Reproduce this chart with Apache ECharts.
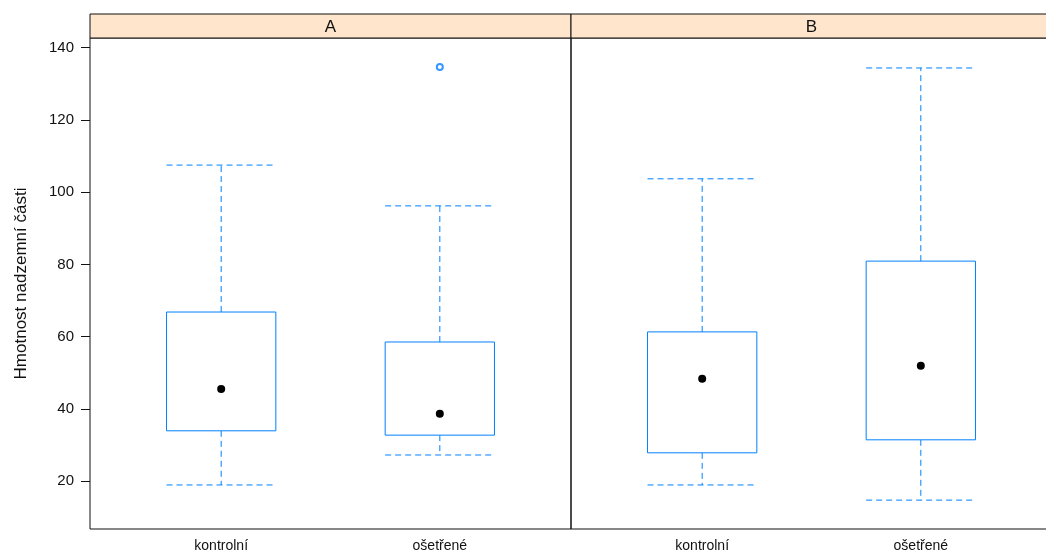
<!DOCTYPE html>
<html>
<head>
<meta charset="utf-8">
<script src="https://cdn.jsdelivr.net/npm/echarts@6/dist/echarts.min.js"></script>
<style>html,body{margin:0;padding:0;background:#fff}#c{width:1046px;height:560px}</style>
</head>
<body>
<div id="c"></div>
<script>
// ---- data ----
const panels = ['A', 'B'];
const categories = ['kontrolní', 'ošetřené'];
// [low whisker, Q1, median, Q3, high whisker]
const statsA = [
  [18.9, 33.9, 45.5, 66.8, 107.5],
  [27.2, 32.7, 38.6, 58.5, 96.2]
];
const statsB = [
  [18.9, 27.8, 48.3, 61.3, 103.7],
  [14.7, 31.4, 51.9, 80.9, 134.4]
];
const outliersA = [[2, 134.7]];
const outliersB = [];
const yTicks = [20, 40, 60, 80, 100, 120, 140];
const yName = 'Hmotnost nadzemní části';

// ---- chart ----
const BLUE = '#0080ff';
const YMIN = 6.7, YMAX = 142.7;
const chart = echarts.init(document.getElementById('c'));

function boxData(stats) {
  return stats.map((s, i) => [i + 1].concat(s));
}
function renderBox(params, api) {
  const x = api.value(0);
  const lo = api.value(1), q1 = api.value(2), med = api.value(3), q3 = api.value(4), hi = api.value(5);
  const w = api.size([0.5, 0])[0];
  const pLo = api.coord([x, lo]), pQ1 = api.coord([x, q1]), pMed = api.coord([x, med]);
  const pQ3 = api.coord([x, q3]), pHi = api.coord([x, hi]);
  const cx = pLo[0];
  const dash = { stroke: BLUE, lineWidth: 1, lineDash: [6, 4], fill: null };
  return {
    type: 'group',
    children: [
      { type: 'line', shape: { x1: cx, y1: pQ3[1], x2: cx, y2: pHi[1] }, style: dash },
      { type: 'line', shape: { x1: cx, y1: pQ1[1], x2: cx, y2: pLo[1] }, style: dash },
      { type: 'line', shape: { x1: cx - w / 2, y1: pHi[1], x2: cx + w / 2, y2: pHi[1] }, style: dash },
      { type: 'line', shape: { x1: cx - w / 2, y1: pLo[1], x2: cx + w / 2, y2: pLo[1] }, style: dash },
      { type: 'rect', shape: { x: cx - w / 2, y: pQ3[1], width: w, height: pQ1[1] - pQ3[1] },
        style: { stroke: BLUE, lineWidth: 1, fill: '#fff' } },
      { type: 'circle', shape: { cx: cx, cy: pMed[1], r: 4 }, style: { fill: '#000' } }
    ]
  };
}

const font = 'Liberation Sans, Arial, sans-serif';

function xAxis(gi) {
  return {
    gridIndex: gi, type: 'value', min: 0.4, max: 2.6,
    axisLine: { show: false }, splitLine: { show: false },
    axisTick: { show: false },
    axisLabel: {
      customValues: [1, 2], formatter: v => categories[Math.round(v) - 1] || '',
      color: '#111', fontSize: 14, fontFamily: font, margin: 10
    }
  };
}
function yAxis(gi, showLabels) {
  return {
    gridIndex: gi, type: 'value', min: YMIN, max: YMAX,
    name: showLabels ? yName : '', nameLocation: 'middle', nameGap: 60,
    nameTextStyle: { fontSize: 17, color: '#111', fontFamily: font },
    splitLine: { show: false },
    axisLine: { show: false },
    axisTick: { show: showLabels, customValues: yTicks, length: 9, lineStyle: { color: '#111' } },
    axisLabel: { show: showLabels, customValues: yTicks, color: '#111', fontSize: 15, fontFamily: font, margin: 16 }
  };
}

const stripTop = 14, stripH = 24, gridTop = 38, gridH = 491;
const gridsLeft = [90, 571], gridW = 481;

chart.setOption({
  animation: false,
  backgroundColor: '#fff',
  grid: gridsLeft.map(l => ({ left: l, top: gridTop, width: gridW, height: gridH, show: true,
    outerBoundsMode: 'none', containLabel: false,
    borderColor: '#111', borderWidth: 1, backgroundColor: 'transparent' })),
  xAxis: [xAxis(0), xAxis(1)],
  yAxis: [yAxis(0, true), yAxis(1, false)],
  graphic: panels.map((p, i) => ({
    type: 'group', x: gridsLeft[i], y: stripTop,
    children: [
      { type: 'rect', shape: { x: 0, y: 0, width: gridW, height: stripH },
        style: { fill: '#ffe5cc', stroke: '#111', lineWidth: 1 } },
      { type: 'text', x: gridW / 2, y: stripH / 2 + 1,
        style: { text: p, fontSize: 17, fontFamily: font, fill: '#111', align: 'center', verticalAlign: 'middle' } }
    ]
  })),
  series: [
    { type: 'custom', xAxisIndex: 0, yAxisIndex: 0, renderItem: renderBox, data: boxData(statsA) },
    { type: 'custom', xAxisIndex: 1, yAxisIndex: 1, renderItem: renderBox, data: boxData(statsB) },
    { type: 'scatter', xAxisIndex: 0, yAxisIndex: 0, symbol: 'emptyCircle', symbolSize: 6,
      itemStyle: { color: BLUE, borderColor: BLUE, borderWidth: 0.8 }, data: outliersA },
    { type: 'scatter', xAxisIndex: 1, yAxisIndex: 1, symbol: 'emptyCircle', symbolSize: 6,
      itemStyle: { color: BLUE, borderColor: BLUE, borderWidth: 0.8 }, data: outliersB }
  ]
});
</script>
</body>
</html>
